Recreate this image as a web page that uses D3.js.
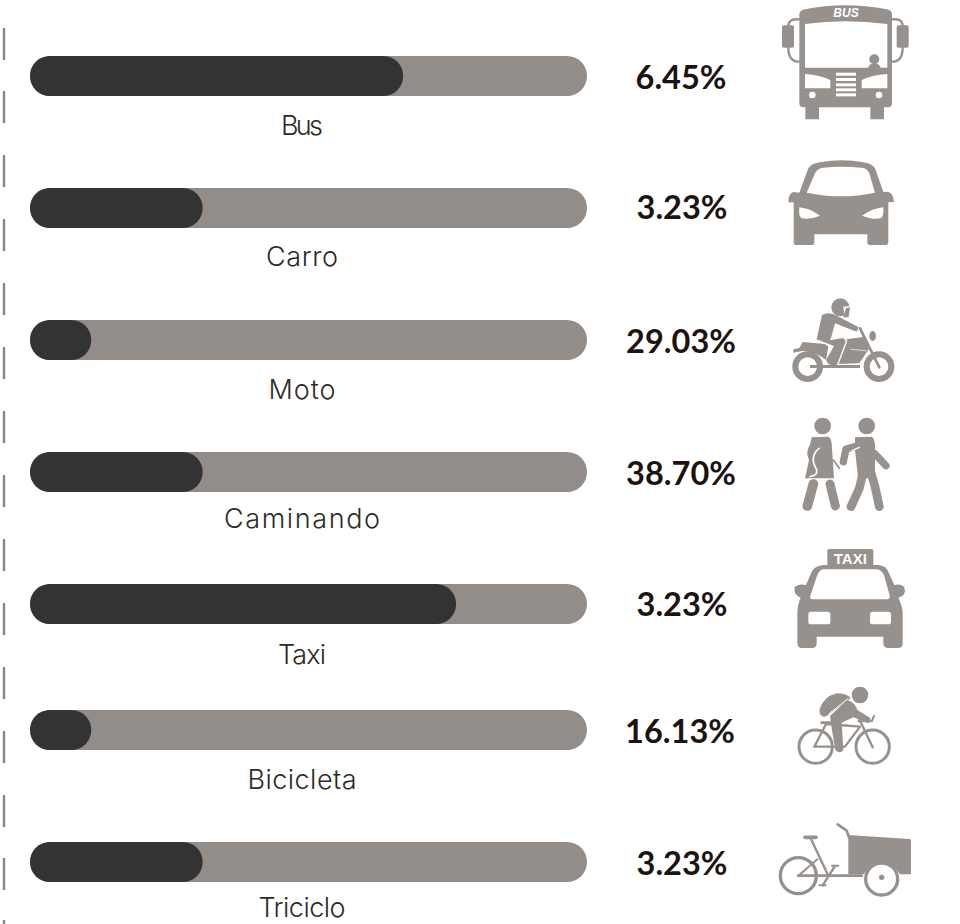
<!DOCTYPE html>
<html>
<head>
<meta charset="utf-8">
<script src="https://cdn.jsdelivr.net/npm/d3@7"></script>
<style>
  html, body { margin: 0; padding: 0; background: #fff; }
  svg { display: block; }
</style>
</head>
<body>
<div id="chart"></div>
<script>
const categories = ['Bus', 'Carro', 'Moto', 'Caminando', 'Taxi', 'Bicicleta', 'Triciclo'];
const percentLabels = ['6.45%', '3.23%', '29.03%', '38.70%', '3.23%', '16.13%', '3.23%'];
// length of the dark part, as % of the track. It does not follow the printed label in the source.
const fillValues = [67, 31, 11, 31, 76.5, 11, 31];

// layout, the rows are not evenly spaced in the source
const rowTops = [56, 188, 320, 452, 584, 710, 842];
const labelYs = [135, 266, 399, 528, 664, 789, 917];
const labelWidths = [42, 72, 67, 156, 48, 109, 87];
const percentYs = [89, 219, 353, 485, 616, 743, 875];
const percentXs = [681, 682, 681, 681, 682, 680, 682];
const sideMarks = [28, 91, 155, 219, 283, 347, 411, 475, 539, 603, 667, 731, 795, 858, 920];

const width = 960;
const height = 924;
const barHeight = 40;
const grey = '#928d88';
const dark = '#333333';
const iconGrey = '#96918c';

const svg = d3.select('#chart')
    .append('svg')
    .attr('width', width)
    .attr('height', height);

const x = d3.scaleLinear().domain([0, 100]).range([30, 587]);
const rowY = d3.scaleOrdinal().domain(categories).range(rowTops);
const rows = categories.map((name, i) => ({
    name,
    fill: fillValues[i],
    label: percentLabels[i],
    labelY: labelYs[i],
    labelW: labelWidths[i],
    pctY: percentYs[i],
    pctX: percentXs[i]
}));

svg.append('g')
    .selectAll('rect')
    .data(sideMarks)
    .enter()
    .append('rect')
    .attr('x', 2.8)
    .attr('y', d => d)
    .attr('width', 2.4)
    .attr('height', 32)
    .attr('fill', '#8a8582');

svg.append('g')
    .selectAll('rect')
    .data(rows)
    .enter()
    .append('rect')
    .attr('x', x(0))
    .attr('y', d => rowY(d.name))
    .attr('width', x(100) - x(0))
    .attr('height', barHeight)
    .attr('rx', 20)
    .attr('fill', grey);

svg.append('g')
    .selectAll('rect')
    .data(rows)
    .enter()
    .append('rect')
    .attr('x', x(0))
    .attr('y', d => rowY(d.name))
    .attr('width', d => x(d.fill) - x(0))
    .attr('height', barHeight)
    .attr('rx', 20)
    .attr('fill', dark);

svg.append('g')
    .selectAll('text')
    .data(rows)
    .enter()
    .append('text')
    .attr('x', 302)
    .attr('y', d => d.labelY)
    .attr('text-anchor', 'middle')
    .attr('textLength', d => d.labelW)
    .attr('lengthAdjust', 'spacing')
    .attr('fill', '#2e2a28')
    .style('font-family', 'Inter')
    .style('font-weight', 300)
    .style('font-size', '27px')
    .text(d => d.name);

svg.append('g')
    .selectAll('text')
    .data(rows)
    .enter()
    .append('text')
    .attr('x', d => d.pctX)
    .attr('y', d => d.pctY)
    .attr('text-anchor', 'middle')
    .attr('fill', '#1a1311')
    .style('font-family', 'Lato')
    .style('font-weight', 700)
    .style('font-size', '32.5px')
    .text(d => d.label);

function icon(ox, oy) {
    return svg.append('g')
        .attr('transform', `translate(${ox},${oy}) scale(${1 / 3})`)
        .attr('fill', iconGrey);
}
function shape(g, d, fill) {
    return g.append('path').attr('d', d).attr('fill', fill || iconGrey);
}
function line(g, d, w, color) {
    return g.append('path')
        .attr('d', d)
        .attr('fill', 'none')
        .attr('stroke', color || iconGrey)
        .attr('stroke-width', w)
        .attr('stroke-linecap', 'round')
        .attr('stroke-linejoin', 'round');
}
function dot(g, cx, cy, r, fill) {
    return g.append('circle').attr('cx', cx).attr('cy', cy).attr('r', r).attr('fill', fill || iconGrey);
}

function drawBus(g) {
    shape(g, 'M118 42Q118 32 135 28Q255 4 380 28Q396 32 396 42L396 310Q396 322 384 322L372 322L372 358L331 358L331 322L177 322L177 358L136 358L136 322L130 322Q118 322 118 310Z');
    shape(g, 'M135 72Q255 55 382 72L382 203L135 203Z', '#fff');
    dot(g, 343, 178, 15);
    shape(g, 'M324 204Q328 190 343 190Q358 190 362 204Z');
    shape(g, 'M135 222Q180 225 211 240L211 265L135 265Z', '#fff');
    shape(g, 'M382 222Q335 225 305 240L305 265L382 265Z', '#fff');
    [218, 234, 250, 265, 280].forEach(y => {
        g.append('rect').attr('x', 228).attr('y', y).attr('width', 60).attr('height', 9).attr('fill', '#fff');
    });
    dot(g, 157, 285, 10, '#fff');
    dot(g, 357, 285, 10, '#fff');
    g.append('rect').attr('x', 66).attr('y', 76).attr('width', 36).attr('height', 67).attr('rx', 6);
    g.append('rect').attr('x', 410).attr('y', 76).attr('width', 36).attr('height', 67).attr('rx', 6);
    line(g, 'M118 58Q85 55 85 78', 7);
    line(g, 'M85 143Q85 185 118 185', 7);
    line(g, 'M396 58Q428 55 428 78', 7);
    line(g, 'M428 143Q428 185 396 185', 7);
    g.append('text').attr('x', 258).attr('y', 51).attr('text-anchor', 'middle')
        .attr('fill', '#fff').style('font-family', 'Liberation Sans').style('font-weight', 700)
        .style('font-style', 'italic').style('font-size', '36px').text('BUS');
}

function drawCar(g) {
    shape(g, 'M118 578L145 505Q155 490 180 487Q245 475 310 487Q335 490 345 505L370 576L385 576Q400 580 402 606L385 607L385 725Q385 735 375 735L332 735Q322 735 322 725L322 703L163 703L163 725Q163 735 153 735L110 735Q101 735 101 725L101 607L85 607Q85 580 100 576Z');
    shape(g, 'M165 520Q172 505 190 503Q245 497 305 503Q322 505 328 520L345 578Q245 600 140 578Z', '#fff');
    shape(g, 'M118 622Q150 625 180 647Q150 660 125 655Q115 650 118 622Z', '#fff');
    shape(g, 'M370 622Q338 625 306 647Q338 660 362 655Q372 650 370 622Z', '#fff');
}

function drawMoto(g) {
    g.append('circle').attr('cx', 143).attr('cy', 260).attr('r', 37).attr('fill', 'none').attr('stroke', iconGrey).attr('stroke-width', 18);
    g.append('circle').attr('cx', 357).attr('cy', 260).attr('r', 37).attr('fill', 'none').attr('stroke', iconGrey).attr('stroke-width', 18);
    shape(g, 'M100 218L100 208L118 204L128 186L195 192L205 200L198 240Q170 215 130 212Z');
    shape(g, 'M258 178L315 170L328 205L298 250L232 252L245 205Z');
    g.append('rect').attr('x', 150).attr('y', 255).attr('width', 150).attr('height', 9);
    line(g, 'M300 145L358 262', 8);
    g.append('ellipse').attr('cx', 338).attr('cy', 168).attr('rx', 10).attr('ry', 15);
    line(g, 'M272 208L318 212', 2, '#fff');
    // rider
    shape(g, 'M186 105Q205 94 226 105L296 142L290 155L225 130L212 178L250 170L260 182L236 250Q225 262 205 252L198 240L222 198L170 178Z');
    line(g, 'M212 178L250 172L260 182L234 252', 4, '#fff');
    dot(g, 241, 82, 27);
    shape(g, 'M250 80L272 78L268 100L254 108Z', '#fff');
    shape(g, 'M258 84L270 82L266 112L250 112Z');
}

function drawWalkers(g) {
    dot(g, 188, 438, 25);
    shape(g, 'M155 472L205 470Q212 472 215 490L222 595L135 595L147 540Q135 515 150 495Z');
    line(g, 'M177 505Q148 530 168 565Q178 585 150 590', 5, '#fff');
    line(g, 'M220 540L238 565', 5);
    line(g, 'M160 612L142 678', 29);
    line(g, 'M210 612L226 678', 27);
    dot(g, 320, 438, 25);
    shape(g, 'M285 472L335 470Q345 475 345 500L345 590L295 600L285 510Z');
    line(g, 'M345 522L378 557', 22);
    line(g, 'M298 497L258 507L250 545', 22);
    line(g, 'M310 575L298 625L273 680', 26);
    line(g, 'M332 575L345 620L358 680', 26);
    line(g, 'M276 512L298 502', 4, '#fff');
}

function drawTaxi(g) {
    g.append('rect').attr('x', 202).attr('y', 57).attr('width', 138).attr('height', 56).attr('rx', 6);
    shape(g, 'M190 105L355 105Q378 107 385 125L403 165Q420 160 432 170Q442 195 415 203Q428 230 428 250L428 340Q428 354 414 354L385 354Q370 354 370 340L370 320L170 320L170 340Q170 354 156 354L126 354Q112 354 112 340L112 250Q112 225 122 203Q100 195 104 172Q115 160 138 165L155 125Q165 107 190 105Z');
    shape(g, 'M190 118L350 118Q365 120 372 135L390 200Q388 208 380 208L160 208Q150 208 150 200L172 135Q178 120 190 118Z', '#fff');
    g.append('rect').attr('x', 145).attr('y', 245).attr('width', 66).attr('height', 38).attr('rx', 8).attr('fill', '#fff');
    g.append('rect').attr('x', 330).attr('y', 245).attr('width', 63).attr('height', 38).attr('rx', 8).attr('fill', '#fff');
    g.append('text').attr('x', 271).attr('y', 103).attr('text-anchor', 'middle')
        .attr('fill', '#fff').style('font-family', 'Liberation Sans').style('font-weight', 700)
        .style('font-size', '45px').text('TAXI');
}

function drawBike(g) {
    [167, 338].forEach(cx => {
        g.append('circle').attr('cx', cx).attr('cy', 650).attr('r', 50).attr('fill', 'none').attr('stroke', iconGrey).attr('stroke-width', 9);
    });
    line(g, 'M163 650L198 582L300 590L255 650L163 650', 7);
    line(g, 'M298 568L338 652', 7);
    line(g, 'M185 578L215 578', 8);
    line(g, 'M295 574L335 574L342 558', 6);
    shape(g, 'M178 540Q190 500 230 490Q262 490 272 505L208 552Q190 568 180 552Z');
    shape(g, 'M210 558L262 510Q285 518 292 540L332 565L326 580L280 562L245 578L250 660Q240 674 226 660L215 595Z');
    line(g, 'M208 550L264 506', 3, '#fff');
    dot(g, 300, 495, 25);
}

function drawCargo(g) {
    g.append('circle').attr('cx', 115).attr('cy', 287).attr('r', 54).attr('fill', 'none').attr('stroke', iconGrey).attr('stroke-width', 10);
    shape(g, 'M265 165L448 177Q453 177 453 182L453 283L420 283Q400 250 365 248Q330 250 312 283L265 283Z');
    g.append('circle').attr('cx', 365).attr('cy', 297).attr('r', 48).attr('fill', '#fff').attr('stroke', iconGrey).attr('stroke-width', 10);
    dot(g, 365, 292, 8);
    line(g, 'M233 133L260 152L267 172', 8);
    line(g, 'M115 287L305 287', 8);
    line(g, 'M152 175L205 287', 7);
    line(g, 'M115 287L172 238', 6);
    line(g, 'M188 316L225 258', 7);
    line(g, 'M135 172L168 172', 11);
    line(g, 'M178 316L197 316', 6);
    line(g, 'M216 257L235 257', 6);
}

drawBus(icon(760, 0));
drawCar(icon(760, 0));
drawMoto(icon(760, 280));
drawWalkers(icon(760, 280));
drawTaxi(icon(760, 530));
drawBike(icon(760, 530));
drawCargo(icon(760, 780));
</script>
</body>
</html>
